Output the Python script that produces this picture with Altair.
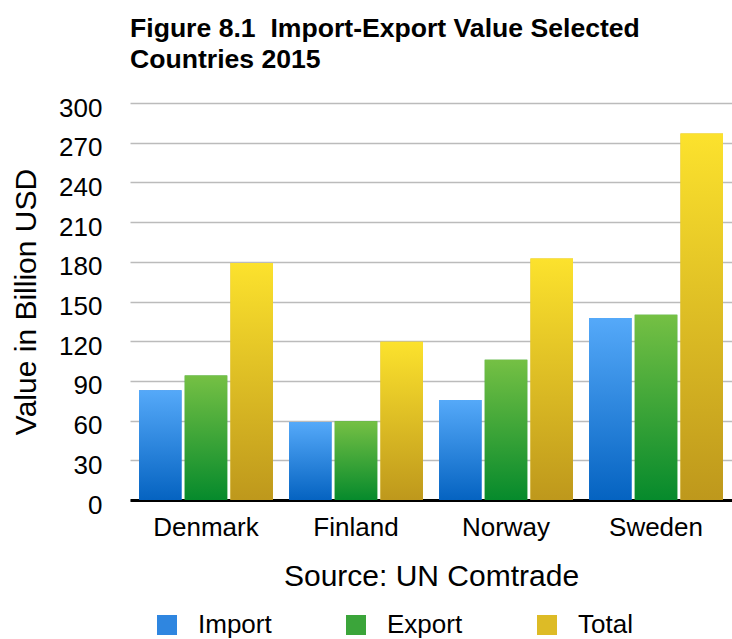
import altair as alt
import pandas as pd

countries = ["Denmark", "Finland", "Norway", "Sweden"]
series = ["Import", "Export", "Total"]
import_vals = [83, 59, 75.5, 137.5]
export_vals = [94, 59.5, 106, 140]
total_vals = [179, 119.5, 182.5, 277]
y_ticks = [0, 30, 60, 90, 120, 150, 180, 210, 240, 270, 300]

flat_colors = ["#2F86E0", "#3BA53A", "#DDBB26"]
grad_tops = ["#55A9F9", "#75C044", "#FCE22D"]
grad_bottoms = ["#0563C1", "#068A2C", "#BE981C"]

rows = []
for i, c in enumerate(countries):
    rows.append({"country": c, "series": "Import", "value": import_vals[i]})
    rows.append({"country": c, "series": "Export", "value": export_vals[i]})
    rows.append({"country": c, "series": "Total", "value": total_vals[i]})
df = pd.DataFrame(rows)


def grad(top, bottom):
    return {
        "gradient": "linear",
        "x1": 0, "y1": 0, "x2": 0, "y2": 1,
        "stops": [{"offset": 0, "color": top}, {"offset": 1, "color": bottom}],
    }


FONT = "Liberation Sans"

base = alt.Chart(df).encode(
    x=alt.X(
        "country:N",
        sort=countries,
        scale=alt.Scale(paddingInner=0.107, paddingOuter=0.06),
        axis=alt.Axis(
            title="Source: UN Comtrade",
            titleFontSize=30,
            titleFont=FONT,
            titleFontWeight="normal",
            titleColor="black",
            titlePadding=21,
            labelAngle=0,
            labelFontSize=26,
            labelFont=FONT,
            labelColor="black",
            labelPadding=14,
            ticks=False,
            domainColor="black",
            domainWidth=3,
        ),
    ),
    xOffset=alt.XOffset(
        "series:N", sort=series, scale=alt.Scale(domain=series, paddingInner=0.07)
    ),
    y=alt.Y(
        "value:Q",
        scale=alt.Scale(domain=[0, 300], nice=False),
        axis=alt.Axis(
            title="Value in Billion USD",
            titleFontSize=30,
            titleFont=FONT,
            titleFontWeight="normal",
            titleColor="black",
            titlePadding=17,
            values=y_ticks,
            labelFontSize=26,
            labelFont=FONT,
            labelColor="black",
            labelPadding=28,
            labelOffset=5,
            ticks=False,
            domain=False,
            gridColor="#BBBBBB",
            gridWidth=1.5,
        ),
    ),
)

legend_layer = base.mark_bar().encode(
    color=alt.Color(
        "series:N",
        scale=alt.Scale(domain=series, range=flat_colors),
        legend=alt.Legend(
            orient="none",
            legendX=24,
            legendY=509,
            direction="horizontal",
            title=None,
            symbolType="square",
            symbolSize=400,
            symbolStrokeWidth=0,
            labelFontSize=26,
            labelFont=FONT,
            labelColor="black",
            labelOffset=18,
            columnPadding=71,
            padding=0,
        ),
    )
)

grad_layer = base.mark_bar().encode(
    color={
        "condition": [
            {"test": "datum.series === 'Import'", "value": grad(grad_tops[0], grad_bottoms[0])},
            {"test": "datum.series === 'Export'", "value": grad(grad_tops[1], grad_bottoms[1])},
        ],
        "value": grad(grad_tops[2], grad_bottoms[2]),
    }
)

chart = (
    alt.layer(legend_layer, grad_layer)
    .properties(
        width=602,
        height=397,
        title=alt.TitleParams(
            ["Figure 8.1\u00a0 Import-Export Value Selected", "Countries 2015"],
            anchor="start",
            frame="group",
            fontSize=26.6,
            font=FONT,
            fontWeight="bold",
            color="black",
            lineHeight=31,
            offset=21,
        ),
        padding={"left": 130, "top": 103, "right": 0, "bottom": 139},
        autosize=alt.AutoSizeParams(type="none"),
    )
    .configure_view(stroke=None)
)

chart.save("out.html", embed_options={"renderer": "svg", "actions": False})
